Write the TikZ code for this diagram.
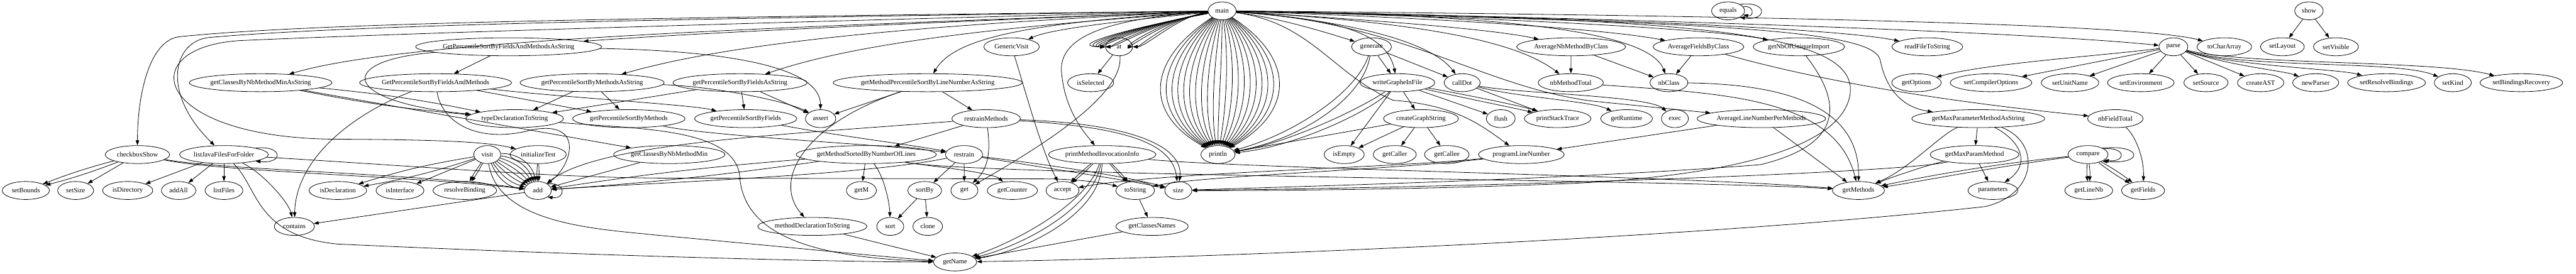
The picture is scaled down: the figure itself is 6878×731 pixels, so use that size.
\documentclass[tikz,border=0pt]{standalone}
\usepackage{fontspec}
\setmainfont{Liberation Serif}
\usetikzlibrary{arrows.meta,shapes.geometric}

\begin{document}
\begin{tikzpicture}[
  x=0.75pt, y=-0.75pt,
  fn/.style={draw, ellipse, line width=1pt, inner sep=0pt, minimum height=36pt,
    minimum width={#1*0.75pt}, font=\fontsize{13.5}{16}\selectfont},
  fn/.default=72,
  arrow/.style={-{Triangle[length=10pt, width=7pt]}, line width=1pt}
]
\useasboundingbox (0,0) rectangle (6878,731);

% rank 0
\node[fn=75] (main) at (3263,29) {main};
\node[fn=88] (equals) at (4614,29) {equals};
\node[fn=76] (show) at (6165,29) {show};
% rank 1
\node[fn=486] (gpsfmStr) at (1358,125) {GetPercentileSortByFieldsAndMethodsAsString};
\node[fn=148] (gvisit) at (2701,125) {GenericVisit};
\node[fn] (at) at (2988,125) {at};
\node[fn=106] (generate) at (3662,125) {generate};
\node[fn=291] (avgNbMeth) at (4195,125) {AverageNbMethodByClass};
\node[fn=242] (avgFields) at (4535,125) {AverageFieldsByClass};
\node[fn=244] (nbImport) at (4803,125) {getNbOfUniqueImport};
\node[fn=189] (readFile) at (5146,125) {readFileToString};
\node[fn=77] (parse) at (5803,125) {parse};
\node[fn=146] (toChar) at (5939,125) {toCharArray};
\node[fn=117] (setLayout) at (6094,125) {setLayout};
\node[fn=120] (setVisible) at (6237,125) {setVisible};
% rank 2
\node[fn=380] (cbnmStr) at (696,221) {getClassesByNbMethodMinAsString};
\node[fn=402] (gpsfm) at (1163,221) {GetPercentileSortByFieldsAndMethods};
\node[fn=384] (gpsmStr) at (1581,221) {getPercentileSortByMethodsAsString};
\node[fn=355] (gpsfStr) at (1976,221) {getPercentileSortByFieldsAsString};
\node[fn=496] (mpslStr) at (2477,221) {getMethodPercentileSortByLineNumberAsString};
\node[fn=123] (isSel) at (2912,221) {isSelected};
\node[fn=200] (writeG) at (3731,221) {writeGrapheInFile};
\node[fn=96] (callDot) at (3904,221) {callDot};
\node[fn=174] (nbMethTot) at (4194,221) {nbMethodTotal};
\node[fn=101] (nbClass) at (4456,221) {nbClass};
\node[fn=132] (getOpt) at (5117,221) {getOptions};
\node[fn=218] (setComp) at (5316,221) {setCompilerOptions};
\node[fn=154] (setUnit) at (5527,221) {setUnitName};
\node[fn=178] (setEnv) at (5716,221) {setEnvironment};
\node[fn=118] (setSrc) at (5890,221) {setSource};
\node[fn=124] (createAST) at (6036,221) {createAST};
\node[fn=123] (newParser) at (6183,221) {newParser};
\node[fn=208] (setResolve) at (6372,221) {setResolveBindings};
\node[fn=99] (setKind) at (6549,221) {setKind};
\node[fn=221] (setBind) at (6732,221) {setBindingsRecovery};
% rank 3
\node[fn=261] (typeDecl) at (1374,317) {typeDeclarationToString};
\node[fn=300] (gpsm) at (1679,317) {getPercentileSortByMethods};
\node[fn=273] (gpsf) at (1991,317) {getPercentileSortByFields};
\node[fn=81] (assert) at (2191,317) {assert};
\node[fn=183] (restrMeth) at (2633,317) {restrainMethods};
\node[fn=200] (createGS) at (3794,317) {createGraphString};
\node[fn=77] (flush) at (4007,317) {flush};
\node[fn=178] (printST) at (4159,317) {printStackTrace};
\node[fn=138] (getRuntime) at (4343,317) {getRuntime};
\node[fn] (exec) at (4472,317) {exec};
\node[fn=343] (avgLine) at (4703,317) {AverageLineNumberPerMethods};
\node[fn=355] (maxPStr) at (5282,317) {getMaxParameterMethodAsString};
\node[fn=148] (nbFieldTot) at (5648,317) {nbFieldTotal};
% rank 4
\node[fn=172] (ckShow) at (367,413) {checkboxShow};
\node[fn=237] (ljf) at (598,413) {listJavaFilesForFolder};
\node[fn] (visit) at (1301,413) {visit};
\node[fn=150] (initTest) at (1437,413) {initializeTest};
\node[fn=297] (cbnm) at (1787,413) {getClassesByNbMethodMin};
\node[fn=374] (msnl) at (2313,413) {getMethodSortedByNumberOfLines};
\node[fn=99] (restrain) at (2574,413) {restrain};
\node[fn=287] (pmii) at (2943,413) {printMethodInvocationInfo};
\node[fn=91] (println) at (3252,413) {println};
\node[fn=107] (isEmpty) at (3589,413) {isEmpty};
\node[fn=115] (getCaller) at (3724,413) {getCaller};
\node[fn=119] (getCallee) at (3863,413) {getCallee};
\node[fn=229] (progLine) at (4062,413) {programLineNumber};
\node[fn=237] (maxParam) at (5272,413) {getMaxParamMethod};
\node[fn=107] (compare) at (5575,413) {compare};
% rank 5
\node[fn=126] (setBounds) at (69,509) {setBounds};
\node[fn=96] (setSize) at (202,509) {setSize};
\node[fn=134] (isDir) at (341,509) {isDirectory};
\node[fn=92] (addAll) at (477,509) {addAll};
\node[fn=101] (listFiles) at (598,509) {listFiles};
\node[fn=154] (isDecl) at (902,509) {isDeclaration};
\node[fn=128] (isIface) at (1068,509) {isInterface};
\node[fn=170] (resolveB) at (1241,509) {resolveBinding};
\node[fn] (add) at (1436,509) {add};
\node[fn=80] (getM) at (2300,509) {getM};
\node[fn=90] (sortBy) at (2469,509) {sortBy};
\node[fn] (get) at (2575,509) {get};
\node[fn=134] (getCounter) at (2703,509) {getCounter};
\node[fn=88] (accept) at (2837,509) {accept};
\node[fn=103] (toStr) at (3031,509) {toString};
\node[fn] (size) at (3146,509) {size};
\node[fn=139] (getMethods) at (4962,509) {getMethods};
\node[fn=133] (params) at (5321,509) {parameters};
\node[fn=128] (getLineNb) at (5577,509) {getLineNb};
\node[fn=115] (getFields) at (5722,509) {getFields};
% rank 6
\node[fn=107] (contains) at (786,605) {contains};
\node[fn=292] (mdts) at (2169,605) {methodDeclarationToString};
\node[fn] (sort) at (2377,605) {sort};
\node[fn=79] (clone) at (2477,605) {clone};
\node[fn=193] (clsNames) at (3076,605) {getClassesNames};
% rank 7
\node[fn=115] (getName) at (2550,700) {getName};

% calls from main
\foreach \d in {-200,-180,...,200}
  \draw[arrow] (main) .. controls (3263+\d,160) and (3252+\d,300) .. (println);
\foreach \d in {0,15,...,165}
  \draw[arrow] (main) .. controls (3150-\d,40+\d/4) and (3060-1.3*\d,125) .. (at);
\draw[arrow] (main) .. controls (2000,45) and (900,55) .. (480,98) .. controls (400,106) and (367,250) .. (ckShow);
\draw[arrow] (main) .. controls (2000,48) and (1000,62) .. (560,100) .. controls (460,109) and (430,250) .. (ljf);
\draw[arrow] (main) .. controls (2200,55) and (1100,88) .. (650,108) .. controls (350,121) and (400,370) .. (900,372) .. controls (1150,373) and (1300,378) .. (initTest);
\draw[arrow] (main) .. controls (2200,70) and (1100,100) .. (cbnmStr);
\draw[arrow] (main) .. controls (2600,55) and (1900,85) .. (gpsfmStr);
\draw[arrow] (main) .. controls (2600,60) and (2000,100) .. (gpsmStr);
\draw[arrow] (main) .. controls (2700,70) and (2300,110) .. (gpsfStr);
\draw[arrow] (main) .. controls (2750,60) and (2550,100) .. (mpslStr);
\draw[arrow] (main) .. controls (2950,60) and (2800,80) .. (gvisit);
\draw[arrow] (main) .. controls (2950,50) and (2820,100) .. (2835,200) .. controls (2845,300) and (2900,360) .. (pmii);
\draw[arrow] (main) .. controls (3400,45) and (3520,80) .. (generate);
\draw[arrow] (main) .. controls (3550,50) and (3700,80) .. (writeG);
\draw[arrow] (main) .. controls (3600,55) and (3820,110) .. (callDot);
\draw[arrow] (main) .. controls (3700,55) and (4000,80) .. (avgNbMeth);
\draw[arrow] (main) .. controls (3800,60) and (4050,110) .. (nbMethTot);
\draw[arrow] (main) .. controls (4000,40) and (4400,80) .. (nbClass);
\draw[arrow] (main) .. controls (3900,50) and (4300,80) .. (avgFields);
\draw[arrow] (main) .. controls (4000,45) and (4600,80) .. (nbImport);
\draw[arrow] (main) .. controls (4200,45) and (4900,75) .. (readFile);
\draw[arrow] (main) .. controls (4400,50) and (5400,85) .. (parse);
\draw[arrow] (main) .. controls (4500,40) and (5700,60) .. (toChar);
\draw[arrow] (main) .. controls (3750,60) and (3950,230) .. (4250,270) .. controls (4450,290) and (4550,300) .. (avgLine);
\draw[arrow] (main) .. controls (3500,60) and (3560,200) .. (3720,268) .. controls (3880,280) and (3950,330) .. (progLine);
\draw[arrow] (main) .. controls (4600,60) and (5000,80) .. (5020,160) .. controls (5040,260) and (5100,290) .. (maxPStr);
\draw[arrow] (main) .. controls (4500,50) and (4960,80) .. (4940,250) .. controls (4920,400) and (4600,470) .. (4200,490) .. controls (3700,510) and (3300,509) .. (size);

% right part
\draw[arrow] (show) -- (setLayout);
\draw[arrow] (show) -- (setVisible);
\draw[arrow] (equals.north east) .. controls +(75,-10) and +(75,10) .. (equals.south east);
\draw[arrow] (equals.15) .. controls +(30,-6) and +(30,6) .. (equals.-15);
\draw[arrow] (generate) -- (writeG);
\draw[arrow] (generate) -- (callDot);
\draw[arrow] (generate) .. controls (3620,250) and (3450,360) .. (println);
\draw[arrow] (generate) .. controls (3640,260) and (3480,370) .. (println);
\draw[arrow] (writeG) -- (createGS);
\draw[arrow] (writeG) -- (flush);
\draw[arrow] (writeG) .. controls (3900,260) and (4050,290) .. (printST);
\draw[arrow] (writeG) .. controls (3900,250) and (4070,285) .. (printST);
\draw[arrow] (writeG) -- (isEmpty);
\draw[arrow] (writeG) .. controls (3650,280) and (3450,380) .. (println);
\draw[arrow] (writeG) .. controls (3670,290) and (3470,390) .. (println);
\draw[arrow] (callDot) -- (printST);
\draw[arrow] (callDot) .. controls (4050,260) and (4250,270) .. (getRuntime);
\draw[arrow] (callDot) .. controls (4050,250) and (4400,255) .. (exec);
\draw[arrow] (createGS) -- (isEmpty);
\draw[arrow] (createGS) -- (getCaller);
\draw[arrow] (createGS) -- (getCallee);
\draw[arrow] (createGS) -- (println);
\draw[arrow] (avgNbMeth) -- (nbMethTot);
\draw[arrow] (avgNbMeth) -- (nbClass);
\draw[arrow] (avgFields) -- (nbClass);
\draw[arrow] (avgFields) .. controls (4800,200) and (5100,262) .. (nbFieldTot);
\draw[arrow] (nbMethTot) .. controls (4600,250) and (4900,260) .. (getMethods);
\draw[arrow] (nbClass) .. controls (4800,225) and (4965,300) .. (getMethods);
\draw[arrow] (nbImport) .. controls (4900,250) and (4950,380) .. (4700,440) .. controls (4200,480) and (3400,500) .. (size);
\draw[arrow] (avgLine) -- (getMethods);
\draw[arrow] (avgLine) -- (progLine);
\draw[arrow] (progLine) .. controls (3700,450) and (3100,460) .. (accept);
\draw[arrow] (progLine) .. controls (3700,455) and (3200,470) .. (toStr);
\draw[arrow] (parse) .. controls (5600,150) and (5300,170) .. (getOpt);
\draw[arrow] (parse) -- (setComp);
\draw[arrow] (parse) -- (setUnit);
\draw[arrow] (parse) -- (setEnv);
\draw[arrow] (parse) -- (setSrc);
\draw[arrow] (parse) -- (createAST);
\draw[arrow] (parse) .. controls (5950,175) and (6100,190) .. (newParser);
\draw[arrow] (parse) .. controls (5950,175) and (6250,185) .. (setResolve);
\draw[arrow] (parse) .. controls (6000,185) and (6400,160) .. (setKind);
\draw[arrow] (parse) .. controls (6000,175) and (6500,160) .. (setBind);
\draw[arrow] (maxPStr) -- (maxParam);
\draw[arrow] (maxPStr) .. controls (5400,380) and (5420,440) .. (params);
\draw[arrow] (maxPStr) .. controls (5180,360) and (5100,450) .. (getMethods);
\draw[arrow] (maxPStr) .. controls (5450,380) and (5440,520) .. (5300,552) .. controls (4500,640) and (3200,690) .. (getName);
\draw[arrow] (maxParam) -- (params);
\draw[arrow] (maxParam) .. controls (5150,440) and (5060,470) .. (getMethods);
\draw[arrow] (maxParam) .. controls (5100,460) and (4000,500) .. (size);
\draw[arrow] (compare) to[bend right=6] (getLineNb);
\draw[arrow] (compare) to[bend left=6] (getLineNb);
\draw[arrow] (compare) to[bend right=4] (getFields);
\draw[arrow] (compare) to[bend left=4] (getFields);
\draw[arrow] (compare) .. controls (5300,440) and (5100,480) .. (getMethods);
\draw[arrow] (compare) .. controls (5300,450) and (5110,488) .. (getMethods);
\draw[arrow] (compare.north east) .. controls +(110,-10) and +(110,10) .. (compare.south east);
\draw[arrow] (compare.20) .. controls +(60,-5) and +(60,5) .. (compare.-20);
\draw[arrow] (nbFieldTot) .. controls (5700,360) and (5725,420) .. (getFields);

% left part
\draw[arrow] (ckShow) to[bend left=3] (setBounds);
\draw[arrow] (ckShow) to[bend right=3] (setBounds);
\draw[arrow] (ckShow) -- (setSize);
\draw[arrow] (ckShow) .. controls (600,460) and (1100,470) .. (add);
\draw[arrow] (ckShow) .. controls (600,455) and (1100,462) .. (add);
\draw[arrow] (ljf.north east) .. controls +(75,-8) and +(75,8) .. (ljf.south east);
\draw[arrow] (ljf) -- (isDir);
\draw[arrow] (ljf) -- (addAll);
\draw[arrow] (ljf) -- (listFiles);
\draw[arrow] (ljf) .. controls (700,460) and (770,540) .. (contains);
\draw[arrow] (ljf) .. controls (690,500) and (680,630) .. (900,652) .. controls (1500,680) and (2200,700) .. (getName);
\draw[arrow] (ljf) .. controls (1200,450) and (1500,476) .. (1800,476) -- (2800,478) .. controls (2900,480) and (2950,490) .. (toStr);
\draw[arrow] (visit) to[bend left=4] (isDecl);
\draw[arrow] (visit) to[bend right=4] (isDecl);
\draw[arrow] (visit) -- (isIface);
\draw[arrow] (visit) to[bend left=4] (resolveB);
\draw[arrow] (visit) to[bend right=4] (resolveB);
\foreach \b in {-40,-30,...,30}
  \draw[arrow] (visit) to[bend right=\b] (add);
\draw[arrow] (visit) .. controls (1330,600) and (1600,612) .. (1750,628) .. controls (2100,660) and (2400,690) .. (getName);
\draw[arrow] (initTest) to[bend left=4] (add);
\draw[arrow] (initTest) to[bend right=4] (add);
\draw[arrow] (add.north east) .. controls +(50,-6) and +(50,6) .. (add.south east);
\draw[arrow] (add) -- (contains);
\draw[arrow] (cbnm) -- (add);
\draw[arrow] (cbnmStr) -- (cbnm);
\draw[arrow] (cbnmStr) to[bend left=3] (typeDecl);
\draw[arrow] (cbnmStr) to[bend right=3] (typeDecl);
\draw[arrow] (gpsfmStr) -- (gpsfm);
\draw[arrow] (gpsfmStr) .. controls (900,160) and (900,270) .. (typeDecl);
\draw[arrow] (gpsfmStr) .. controls (1900,135) and (2190,170) .. (assert);
\draw[arrow] (gpsfm) -- (gpsm);
\draw[arrow] (gpsfm) .. controls (1500,260) and (1850,280) .. (gpsf);
\draw[arrow] (gpsfm) .. controls (1180,330) and (1280,385) .. (1420,347) .. controls (1560,320) and (1530,440) .. (add);
\draw[arrow] (gpsfm) .. controls (950,300) and (790,420) .. (contains);
\draw[arrow] (gpsmStr) -- (typeDecl);
\draw[arrow] (gpsmStr) -- (gpsm);
\draw[arrow] (gpsmStr) .. controls (1900,230) and (2100,270) .. (assert);
\draw[arrow] (gpsfStr) -- (gpsf);
\draw[arrow] (gpsfStr) -- (assert);
\draw[arrow] (gpsfStr) -- (typeDecl);
\draw[arrow] (mpslStr) -- (assert);
\draw[arrow] (mpslStr) -- (restrMeth);
\draw[arrow] (mpslStr) .. controls (2150,330) and (2060,480) .. (mdts);
\draw[arrow] (typeDecl) .. controls (1700,345) and (1960,340) .. (1975,470) .. controls (1985,640) and (2200,690) .. (getName);
\draw[arrow] (gpsm) .. controls (1900,365) and (2350,385) .. (restrain);
\draw[arrow] (gpsf) .. controls (2250,365) and (2420,385) .. (restrain);
\draw[arrow] (restrMeth) -- (msnl);
\draw[arrow] (restrMeth) .. controls (2645,400) and (2640,450) .. (get);
\draw[arrow] (restrMeth) .. controls (2100,360) and (1600,380) .. (add);
\draw[arrow] (restrMeth) .. controls (3000,340) and (3130,380) .. (size);
\draw[arrow] (restrMeth) .. controls (3020,330) and (3160,390) .. (size);
\draw[arrow] (msnl) -- (getM);
\draw[arrow] (msnl) .. controls (2360,470) and (2375,540) .. (sort);
\draw[arrow] (msnl) to[bend left=2] (add);
\draw[arrow] (msnl) to[bend right=2] (add);
\draw[arrow] (msnl) .. controls (2450,440) and (2650,460) .. (getCounter);
\draw[arrow] (msnl) .. controls (2600,470) and (4500,480) .. (getMethods);
\draw[arrow] (restrain) -- (get);
\draw[arrow] (restrain) -- (sortBy);
\draw[arrow] (restrain) .. controls (2800,440) and (3000,470) .. (size);
\draw[arrow] (restrain) .. controls (2800,450) and (3000,480) .. (size);
\draw[arrow] (restrain) .. controls (2300,470) and (1700,490) .. (add);
\draw[arrow] (at) -- (isSel);
\draw[arrow] (at) .. controls (3000,250) and (2800,380) .. (get);
\draw[arrow] (gvisit) .. controls (2740,250) and (2780,400) .. (accept);
\draw[arrow] (pmii) to[bend left=3] (accept);
\draw[arrow] (pmii) to[bend right=3] (accept);
\draw[arrow] (pmii) to[bend left=3] (toStr);
\draw[arrow] (pmii) to[bend right=3] (toStr);
\draw[arrow] (pmii) .. controls (2900,550) and (2700,650) .. (getName);
\draw[arrow] (pmii) .. controls (2920,560) and (2720,660) .. (getName);
\draw[arrow] (pmii) .. controls (2940,570) and (2740,670) .. (getName);
\draw[arrow] (pmii) .. controls (3300,450) and (4500,470) .. (getMethods);
\draw[arrow] (toStr) -- (clsNames);
\draw[arrow] (clsNames) -- (getName);
\draw[arrow] (sortBy) -- (sort);
\draw[arrow] (sortBy) -- (clone);
\draw[arrow] (mdts) -- (getName);
\end{tikzpicture}
\end{document}
